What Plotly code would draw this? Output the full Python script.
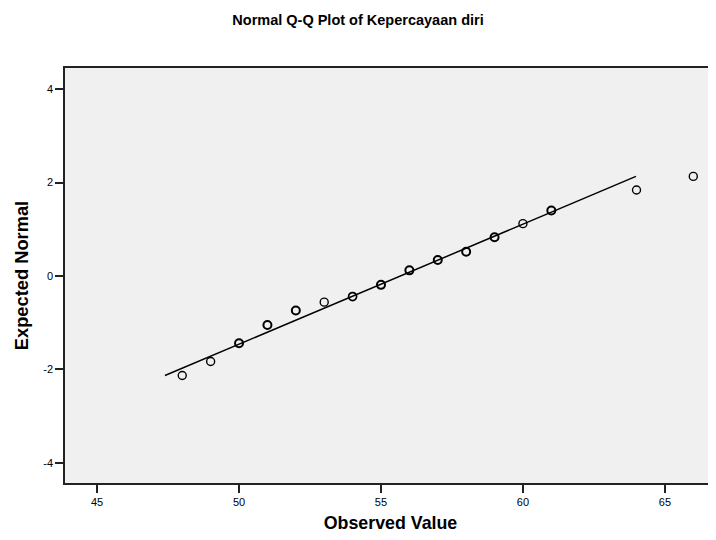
import plotly.graph_objects as go

# Observed values and their expected normal quantiles
observed = [48, 49, 50, 51, 52, 53, 54, 55, 56, 57, 58, 59, 60, 61, 64, 66]
expected = [-2.13, -1.83, -1.44, -1.05, -0.74, -0.56, -0.44, -0.19, 0.12, 0.34, 0.52, 0.83, 1.12, 1.40, 1.84, 2.13]
# repeated observations are drawn heavier
marker_weight = [1.4, 1.4, 2.0, 2.0, 2.0, 1.4, 1.7, 2.0, 2.0, 2.0, 2.0, 2.0, 1.4, 2.0, 1.4, 1.4]

# reference line (mean / sd based)
line_x = [47.39, 63.98]
line_y = [-2.13, 2.13]

x_ticks = [45, 50, 55, 60, 65]
y_ticks = [-4, -2, 0, 2, 4]

font_family = "Arial, Liberation Sans, sans-serif"

# page body has an 8px default margin; size the figure to fill the rest
W, H = 708, 532

fig = go.Figure()
fig.add_trace(go.Scatter(
    x=line_x, y=line_y, mode="lines",
    line=dict(color="black", width=1.5),
    hoverinfo="skip", showlegend=False,
))
fig.add_trace(go.Scatter(
    x=observed, y=expected, mode="markers",
    marker=dict(symbol="circle-open", size=8, color="black",
                line=dict(color="black", width=marker_weight)),
    showlegend=False,
))

fig.update_layout(
    width=W, height=H,
    margin=dict(l=57, r=0, t=60, b=57),
    paper_bgcolor="white",
    plot_bgcolor="#f0f0f0",
    font=dict(family=font_family, color="black", size=11),
    title=dict(
        text="<b>Normal Q-Q Plot of Kepercayaan diri</b>",
        font=dict(size=14.5, family=font_family, color="black"),
        x=350 / W, xanchor="center", xref="container",
        y=1 - 12 / H, yref="container", yanchor="middle",
    ),
    xaxis=dict(
        range=[43.87, 66.80],
        tickvals=x_ticks, ticktext=[str(v) for v in x_ticks],
        ticks="outside", ticklen=8, tickwidth=1.5, tickcolor="#222",
        showline=True, linecolor="#222", linewidth=1.5, mirror=True,
        showgrid=False, zeroline=False,
        tickfont=dict(size=11, color="black"),
        title=dict(text="<b>Observed Value</b>", font=dict(size=17.8, color="black"), standoff=10),
    ),
    yaxis=dict(
        range=[-4.43, 4.45],
        tickvals=y_ticks, ticktext=[str(v) for v in y_ticks],
        ticks="outside", ticklen=8, tickwidth=1.5, tickcolor="#222",
        showline=True, linecolor="#222", linewidth=1.5,
        showgrid=False, zeroline=False,
        tickfont=dict(size=11, color="black"),
        title=dict(text="<b>Expected Normal</b>", font=dict(size=18.3, color="black"), standoff=10),
    ),
)

fig.write_html("out.html")
